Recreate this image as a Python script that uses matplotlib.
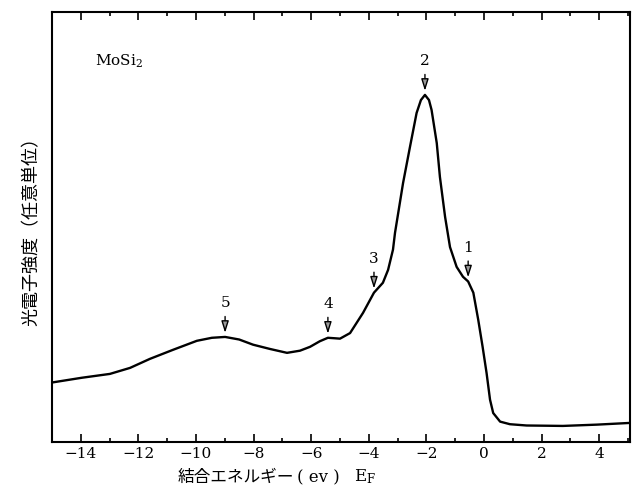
import numpy as np
import matplotlib
matplotlib.use('Agg')
import matplotlib.pyplot as plt

plt.rcParams['font.family'] = ['DejaVu Serif', 'Noto Sans CJK JP']
plt.rcParams['mathtext.fontset'] = 'dejavuserif'

# binding energy (eV) and photoelectron intensity (arb. units)
energy = [-15.00, -13.97, -12.99, -12.29, -11.60, -10.80, -9.97, -9.45, -8.99,
          -8.50, -8.02, -7.43, -6.84, -6.39, -6.04, -5.70, -5.42, -5.20, -5.00,
          -4.65, -4.20, -3.82, -3.51, -3.33, -3.16, -3.09, -2.81, -2.57, -2.34,
          -2.19, -2.05, -1.91, -1.82, -1.64, -1.53, -1.35, -1.18, -0.95, -0.73,
          -0.55, -0.37, -0.20, -0.05, 0.09, 0.21, 0.32, 0.56, 0.90, 1.48, 2.74, 3.92, 5.07]
intensity = [13.8, 14.9, 15.8, 17.2, 19.3, 21.4, 23.5, 24.2, 24.4,
             23.8, 22.6, 21.6, 20.7, 21.2, 22.1, 23.4, 24.2, 24.1, 24.0,
             25.3, 30.0, 34.7, 37.0, 40.0, 44.7, 48.6, 60.2, 68.6, 76.5,
             79.5, 80.7, 79.5, 77.2, 69.5, 61.6, 52.3, 45.3, 40.7, 38.4,
             37.3, 34.7, 28.4, 22.2, 16.0, 9.8, 6.7, 4.7, 4.1, 3.8, 3.7, 4.0, 4.4]

# marked peaks
peak_labels = ['1', '2', '3', '4', '5']
peak_x = [-0.55, -2.05, -3.82, -5.42, -8.99]
peak_y = [37.3, 80.7, 34.7, 24.2, 24.4]

fig = plt.figure(figsize=(6.39, 4.97), dpi=100)
ax = fig.add_axes([0.0814, 0.111, 0.9045, 0.865])

ax.plot(energy, intensity, color='black', lw=1.7)

for lab, px, py in zip(peak_labels, peak_x, peak_y):
    ax.annotate('', xy=(px, py + 0.3), xytext=(px, py + 5.4),
                arrowprops=dict(arrowstyle='-|>,head_length=0.7,head_width=0.22',
                                color='black', lw=1.0, fc='#9a9a9a'))
    ax.text(px, py + 6.2, lab, ha='center', va='bottom', fontsize=11)

ax.set_xlim(-15, 5.07)
ax.set_ylim(0, 100)
ax.set_xticks(np.arange(-14, 5, 2))
ax.set_xticks(np.arange(-15, 6, 1), minor=True)
ax.set_xticklabels([str(v).replace('-', '\u2212') for v in range(-14, 5, 2)])
ax.set_yticks([])
ax.tick_params(axis='x', which='both', direction='in', top=True, bottom=True,
               labelsize=11, width=1.2)
ax.tick_params(axis='x', which='major', length=6)
ax.tick_params(axis='x', which='minor', length=3)
for s in ax.spines.values():
    s.set_linewidth(1.5)

ax.text(-13.5, 88.4, 'MoSi$_2$', fontsize=11, ha='left', va='center')

ax.set_ylabel('光電子強度（任意単位）', fontsize=13, family=['Noto Sans CJK JP'], labelpad=8)
fig.text(178 / 639, 0.022, '結合エネルギー', fontsize=12, ha='left', va='bottom',
         family=['Noto Sans CJK JP'])
fig.text(297 / 639, 0.022, '( ev )', fontsize=12, ha='left', va='bottom')
fig.text(354 / 639, 0.022, r'E$_\mathrm{F}$', fontsize=12, ha='left', va='bottom')

fig.savefig('out.png', dpi=100)
